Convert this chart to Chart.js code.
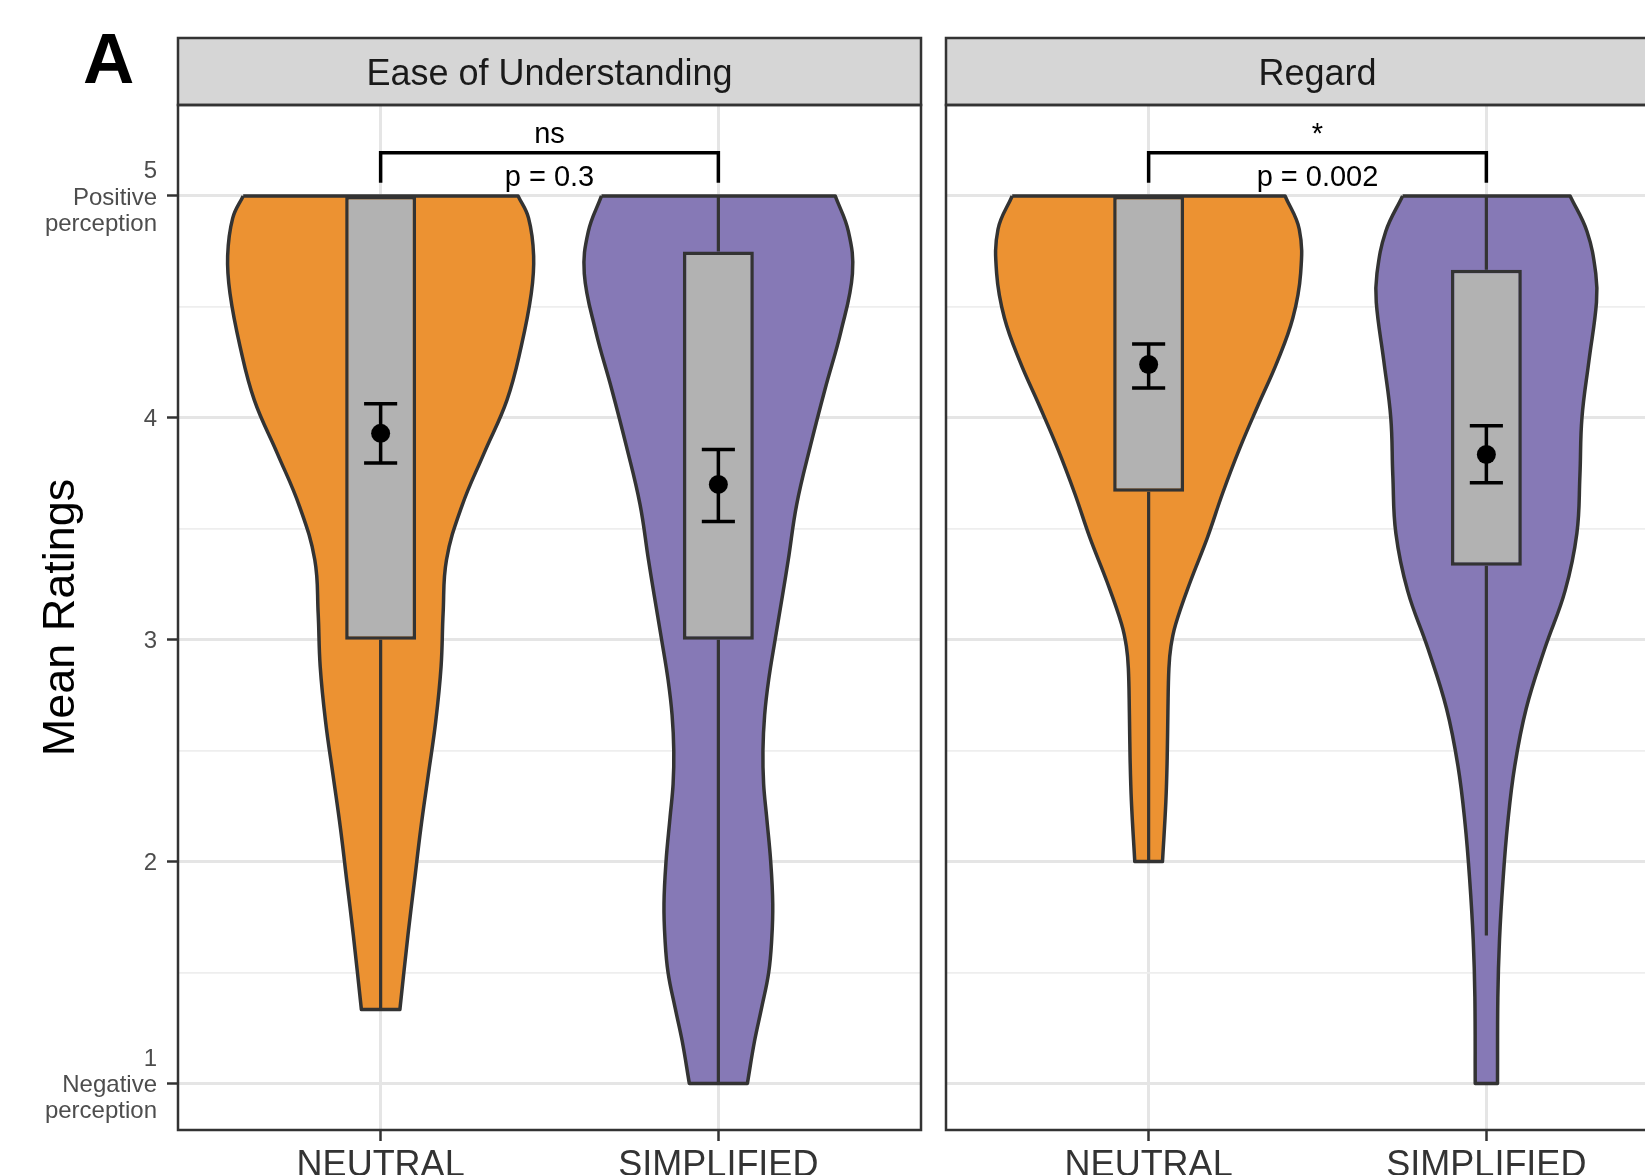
<!DOCTYPE html>
<html>
<head>
<meta charset="utf-8">
<title>Mean Ratings</title>
<script src="https://cdn.jsdelivr.net/npm/chart.js@4.4.1/dist/chart.umd.min.js"></script>
<style>
  html, body { margin: 0; padding: 0; background: #fff; overflow: hidden; }
  body { width: 1645px; height: 1175px; position: relative; }
  #tag { position: absolute; left: 83px; top: 23px; font: bold 71px 'Liberation Sans', Arial, sans-serif; line-height: 71px; color: #000; }
  .panel { position: absolute; top: 0; }
  #wrapEase { left: 0; }
  #wrapRegard { left: 925px; }
</style>
</head>
<body>
<div id="tag">A</div>
<div class="panel" id="wrapEase"><canvas id="easeChart" width="925" height="1175"></canvas></div>
<div class="panel" id="wrapRegard"><canvas id="regardChart" width="790" height="1175"></canvas></div>
<script>
var FONT = "'Liberation Sans', Arial, Helvetica, sans-serif";

var groups = ['NEUTRAL', 'SIMPLIFIED'];
var panelTitles = ['Ease of Understanding', 'Regard'];
var groupColors = ['#ec9232', '#8679b6'];
var yTitle = 'Mean Ratings';
var yMajorTicks = [1, 2, 3, 4, 5];
var yMinorTicks = [1.5, 2.5, 3.5, 4.5];
var yTickLabels = [['1', 'Negative', 'perception'], '2', '3', '4', ['5', 'Positive', 'perception']];

// violin outlines: rating level (top to bottom) and half width in group units
var easeNeutralLevels = [5.0, 4.9, 4.73, 4.56, 4.32, 4.08, 3.84, 3.6, 3.36, 3.12, 2.88, 2.63, 2.39, 2.15, 1.91, 1.67, 1.333];
var easeNeutralHalf = [0.407, 0.438, 0.453, 0.446, 0.416, 0.374, 0.306, 0.24, 0.195, 0.185, 0.179, 0.163, 0.141, 0.119, 0.1, 0.081, 0.057];
var easeSimplifiedLevels = [5.0, 4.84, 4.65, 4.39, 4.13, 3.87, 3.61, 3.36, 3.2, 3.0, 2.82, 2.66, 2.5, 2.35, 2.2, 2.0, 1.81, 1.65, 1.5, 1.34, 1.19, 1.0];
var easeSimplifiedHalf = [0.346, 0.385, 0.397, 0.363, 0.316, 0.272, 0.232, 0.207, 0.19, 0.168, 0.149, 0.137, 0.132, 0.134, 0.143, 0.155, 0.161, 0.158, 0.149, 0.128, 0.107, 0.086];
var regardNeutralLevels = [5.0, 4.85, 4.65, 4.45, 4.25, 4.06, 3.86, 3.66, 3.46, 3.26, 3.07, 2.97, 2.87, 2.67, 2.47, 2.27, 2.0];
var regardNeutralHalf = [0.404, 0.446, 0.45, 0.427, 0.38, 0.325, 0.269, 0.219, 0.174, 0.123, 0.08, 0.066, 0.06, 0.057, 0.055, 0.051, 0.041];
var regardSimplifiedLevels = [5.0, 4.84, 4.65, 4.52, 4.26, 4.0, 3.74, 3.48, 3.22, 2.96, 2.69, 2.43, 2.17, 1.91, 1.65, 1.39, 1.0];
var regardSimplifiedHalf = [0.248, 0.298, 0.324, 0.326, 0.304, 0.283, 0.277, 0.268, 0.233, 0.173, 0.118, 0.084, 0.063, 0.049, 0.039, 0.034, 0.033];

// box plots [NEUTRAL, SIMPLIFIED]
var easeQ1 = [3, 3];
var easeQ3 = [5, 4.75];
var easeLow = [1.333, 1];
var easeHigh = [5, 5];
var regardQ1 = [3.667, 3.333];
var regardQ3 = [5, 4.667];
var regardLow = [2, 1.667];
var regardHigh = [5, 5];

// mean and standard error
var easeMean = [3.93, 3.70];
var easeSeLow = [3.796, 3.533];
var easeSeHigh = [4.063, 3.857];
var regardMean = [4.24, 3.835];
var regardSeLow = [4.134, 3.707];
var regardSeHigh = [4.333, 3.964];

// comparison brackets
var easeStars = 'ns';
var easeP = 'p = 0.3';
var regardStars = '*';
var regardP = 'p = 0.002';
var bracketFoot = 5.06;
var bracketTop = 5.195;
var starsAt = 5.275;
var pAt = 5.08;

var CAP = 0.049;

Chart.defaults.font.family = FONT;

function violinDataset(center, levels, half, color) {
    var n = levels.length;
    var pts = [];
    // left edge downwards, right edge back up; corners doubled so the curve keeps them sharp
    for (var i = 0; i < n; i++) pts.push({ x: center - half[i], y: levels[i] });
    pts.push({ x: center - half[n - 1], y: levels[n - 1] });
    pts.push({ x: center + half[n - 1], y: levels[n - 1] });
    for (var j = n - 1; j >= 0; j--) pts.push({ x: center + half[j], y: levels[j] });
    pts.push({ x: center + half[0], y: levels[0] });
    pts.push({ x: center - half[0], y: levels[0] });
    return {
        type: 'scatter', data: pts, indexAxis: 'y', showLine: true, fill: 'shape',
        backgroundColor: color, borderColor: '#333', borderWidth: 3.5, tension: 0.4,
        borderJoinStyle: 'round', pointRadius: 0, pointHoverRadius: 0, order: 6
    };
}

function whiskerDataset(q1, q3, low, high) {
    var pts = [];
    q1.forEach(function (v, i) {
        var c = i + 1;
        pts.push({ x: c, y: low[i] }, { x: c, y: v }, { x: c, y: null });
        if (high[i] > q3[i]) pts.push({ x: c, y: q3[i] }, { x: c, y: high[i] }, { x: c, y: null });
    });
    return {
        type: 'scatter', data: pts, showLine: true, spanGaps: false, fill: false,
        borderColor: '#333', borderWidth: 3.2, pointRadius: 0, pointHoverRadius: 0, order: 5
    };
}

function boxDataset(q1, q3) {
    return {
        type: 'bar',
        data: q1.map(function (v, i) { return { x: i + 1, y: [v, q3[i]] }; }),
        backgroundColor: '#b2b2b2', borderColor: '#333', borderWidth: 3.5, borderSkipped: false,
        categoryPercentage: 1, barPercentage: 0.21, order: 4
    };
}

function errorDataset(lo, hi) {
    var pts = [];
    lo.forEach(function (v, i) {
        var c = i + 1;
        pts.push({ x: c - CAP, y: hi[i] }, { x: c + CAP, y: hi[i] }, { x: c, y: null },
                 { x: c, y: hi[i] }, { x: c, y: v }, { x: c, y: null },
                 { x: c - CAP, y: v }, { x: c + CAP, y: v }, { x: c, y: null });
    });
    return {
        type: 'scatter', data: pts, showLine: true, spanGaps: false, fill: false,
        borderColor: '#000', borderWidth: 3.5, pointRadius: 0, pointHoverRadius: 0, order: 2
    };
}

function meanDataset(mean) {
    return {
        type: 'scatter',
        data: mean.map(function (m, i) { return { x: i + 1, y: m }; }),
        pointRadius: 9.5, pointBackgroundColor: '#000', pointBorderWidth: 0,
        pointHoverRadius: 9.5, order: 1
    };
}

function bracketDataset() {
    return {
        type: 'scatter',
        data: [{ x: 1, y: bracketFoot }, { x: 1, y: bracketTop }, { x: 2, y: bracketTop }, { x: 2, y: bracketFoot }],
        showLine: true, fill: false, borderColor: '#000', borderWidth: 3.5, tension: 0,
        pointRadius: 0, pointHoverRadius: 0, order: 3
    };
}

// grey facet strip above the panel and the dark panel border
function stripPlugin() {
    var h = 67;
    return {
        id: 'facetStrip',
        beforeDraw: function (chart) {
            var a = chart.chartArea, ctx = chart.ctx;
            ctx.save();
            ctx.fillStyle = '#d6d6d6';
            ctx.fillRect(a.left, a.top - h, a.right - a.left, h);
            ctx.restore();
        },
        afterDraw: function (chart) {
            var a = chart.chartArea, ctx = chart.ctx;
            ctx.save();
            ctx.strokeStyle = '#333';
            ctx.lineWidth = 2.5;
            ctx.strokeRect(a.left, a.top - h, a.right - a.left, h);
            ctx.strokeRect(a.left, a.top, a.right - a.left, a.bottom - a.top);
            ctx.restore();
        }
    };
}

function statPlugin(stars, pText) {
    return {
        id: 'statLabels',
        afterDatasetsDraw: function (chart) {
            var ctx = chart.ctx, x = chart.scales.x, y = chart.scales.y;
            ctx.save();
            ctx.fillStyle = '#000';
            ctx.font = '29px ' + FONT;
            ctx.textAlign = 'center';
            ctx.textBaseline = 'middle';
            ctx.fillText(stars, x.getPixelForValue(1.5), y.getPixelForValue(starsAt));
            ctx.fillText(pText, x.getPixelForValue(1.5), y.getPixelForValue(pAt));
            ctx.restore();
        }
    };
}

var yGrid = yMajorTicks.concat(yMinorTicks).sort(function (a, b) { return a - b; });
function isMajor(ctx) { return ctx.tick && yMajorTicks.indexOf(ctx.tick.value) >= 0; }

function buildPanel(canvasId, title, violins, q1, q3, low, high, seLo, seHi, mean, stars, pText, withAxis) {
    var datasets = [
        violinDataset(1, violins[0], violins[1], groupColors[0]),
        violinDataset(2, violins[2], violins[3], groupColors[1]),
        whiskerDataset(q1, q3, low, high),
        boxDataset(q1, q3),
        bracketDataset(),
        errorDataset(seLo, seHi),
        meanDataset(mean)
    ];
    return new Chart(document.getElementById(canvasId), {
        type: 'scatter',
        data: { datasets: datasets },
        options: {
            responsive: false,
            animation: false,
            events: [],
            layout: { autoPadding: false, padding: { left: 0, right: withAxis ? 4 : 26, top: 0, bottom: 0 } },
            plugins: {
                legend: { display: false },
                tooltip: { enabled: false },
                title: {
                    display: true, text: title, fullSize: false, color: '#1a1a1a',
                    font: { size: 36, weight: 'normal' }, padding: { top: 53, bottom: 8.8 }
                }
            },
            scales: {
                x: {
                    type: 'linear', min: 0.4, max: 2.6, offset: false,
                    afterBuildTicks: function (s) { s.ticks = groups.map(function (g, i) { return { value: i + 1 }; }); },
                    afterFit: function (s) {
                        s.height = 45;
                        s.paddingLeft = 0; s.paddingRight = 0;
                    },
                    ticks: {
                        callback: function (v) { return groups[Math.round(v) - 1]; },
                        color: '#333', font: { size: 36 }, padding: 3, maxRotation: 0, autoSkip: false
                    },
                    grid: { color: '#e5e5e5', lineWidth: 3, tickColor: '#333', tickLength: 11, tickWidth: 2.5, offset: false },
                    border: { display: false }
                },
                y: {
                    type: 'linear', min: 0.79, max: 5.41,
                    afterBuildTicks: function (s) { s.ticks = yGrid.map(function (v) { return { value: v }; }); },
                    afterFit: function (s) {
                        s.width = withAxis ? 178 : 21;
                        s.paddingTop = 0; s.paddingBottom = 0;
                    },
                    ticks: {
                        display: withAxis,
                        callback: function (v) {
                            var k = yMajorTicks.indexOf(v);
                            return k >= 0 ? yTickLabels[k] : '';
                        },
                        color: '#4d4d4d', font: { size: 24, lineHeight: 1.1 }, padding: 10,
                        labelOffset: 2, autoSkip: false
                    },
                    grid: {
                        drawTicks: withAxis,
                        color: function (c) { return isMajor(c) ? '#e5e5e5' : '#eeeeee'; },
                        lineWidth: function (c) { return isMajor(c) ? 3 : 1.8; },
                        tickColor: function (c) { return isMajor(c) ? '#333' : 'rgba(0,0,0,0)'; },
                        tickLength: 11, tickWidth: 2.5
                    },
                    border: { display: false },
                    title: {
                        display: withAxis, text: yTitle, color: '#000',
                        font: { size: 45 }, padding: { top: 35, bottom: 0 }
                    }
                }
            }
        },
        plugins: [stripPlugin(), statPlugin(stars, pText)]
    });
}

buildPanel('easeChart', panelTitles[0],
    [easeNeutralLevels, easeNeutralHalf, easeSimplifiedLevels, easeSimplifiedHalf],
    easeQ1, easeQ3, easeLow, easeHigh, easeSeLow, easeSeHigh, easeMean, easeStars, easeP, true);

buildPanel('regardChart', panelTitles[1],
    [regardNeutralLevels, regardNeutralHalf, regardSimplifiedLevels, regardSimplifiedHalf],
    regardQ1, regardQ3, regardLow, regardHigh, regardSeLow, regardSeHigh, regardMean, regardStars, regardP, false);
</script>
</body>
</html>
